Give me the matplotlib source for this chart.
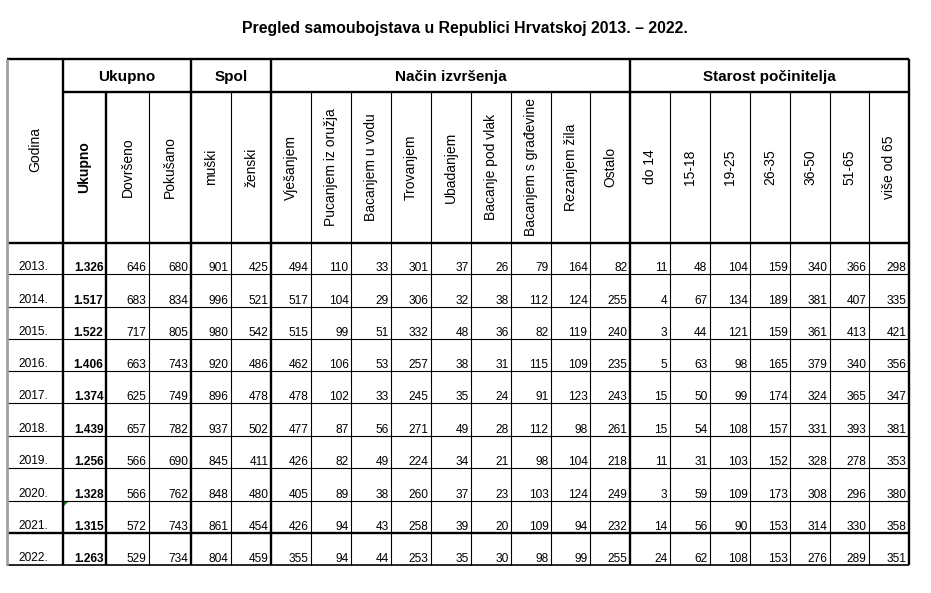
import matplotlib
matplotlib.use("Agg")
import matplotlib.pyplot as plt
from matplotlib.patches import Polygon

plt.rcParams['font.family'] = ['Liberation Sans', 'DejaVu Sans']

title = "Pregled samoubojstava u Republici Hrvatskoj 2013. – 2022."
years = ["2013.", "2014.", "2015.", "2016.", "2017.", "2018.", "2019.", "2020.", "2021.", "2022."]
groups = ["Ukupno", "Spol", "Način izvršenja", "Starost počinitelja"]
columns = ["Ukupno", "Dovršeno", "Pokušano", "muški", "ženski", "Vješanjem",
           "Pucanjem iz oružja", "Bacanjem u vodu", "Trovanjem", "Ubadanjem",
           "Bacanje pod vlak", "Bacanjem s građevine", "Rezanjem žila", "Ostalo",
           "do 14", "15-18", "19-25", "26-35", "36-50", "51-65", "više od 65"]

ukupno = [1326, 1517, 1522, 1406, 1374, 1439, 1256, 1328, 1315, 1263]
dovrseno = [646, 683, 717, 663, 625, 657, 566, 566, 572, 529]
pokusano = [680, 834, 805, 743, 749, 782, 690, 762, 743, 734]
muski = [901, 996, 980, 920, 896, 937, 845, 848, 861, 804]
zenski = [425, 521, 542, 486, 478, 502, 411, 480, 454, 459]
vjesanjem = [494, 517, 515, 462, 478, 477, 426, 405, 426, 355]
pucanjem = [110, 104, 99, 106, 102, 87, 82, 89, 94, 94]
u_vodu = [33, 29, 51, 53, 33, 56, 49, 38, 43, 44]
trovanjem = [301, 306, 332, 257, 245, 271, 224, 260, 258, 253]
ubadanjem = [37, 32, 48, 38, 35, 49, 34, 37, 39, 35]
pod_vlak = [26, 38, 36, 31, 24, 28, 21, 23, 20, 30]
s_gradevine = [79, 112, 82, 115, 91, 112, 98, 103, 109, 98]
rezanjem_zila = [164, 124, 119, 109, 123, 98, 104, 124, 94, 99]
ostalo = [82, 255, 240, 235, 243, 261, 218, 249, 232, 255]
do_14 = [11, 4, 3, 5, 15, 15, 11, 3, 14, 24]
od_15_18 = [48, 67, 44, 63, 50, 54, 31, 59, 56, 62]
od_19_25 = [104, 134, 121, 98, 99, 108, 103, 109, 90, 108]
od_26_35 = [159, 189, 159, 165, 174, 157, 152, 173, 153, 153]
od_36_50 = [340, 381, 361, 379, 324, 331, 328, 308, 314, 276]
od_51_65 = [366, 407, 413, 340, 365, 393, 278, 296, 330, 289]
vise_od_65 = [298, 335, 421, 356, 347, 381, 353, 380, 358, 351]

series = [ukupno, dovrseno, pokusano, muski, zenski, vjesanjem, pucanjem, u_vodu,
          trovanjem, ubadanjem, pod_vlak, s_gradevine, rezanjem_zila, ostalo,
          do_14, od_15_18, od_19_25, od_26_35, od_36_50, od_51_65, vise_od_65]

# layout (pixels)
W, H = 931, 593
xe = [7, 63, 106, 149, 191, 231, 271, 311, 351, 391, 431, 471, 511, 551, 590,
      630, 670, 710, 750, 790, 830, 869, 909]
top, grp_bot, hdr_bot = 59, 92, 243
ye = [243, 274, 307, 339, 371, 403, 436, 468, 501, 533, 565]
group_span = [(1, 4), (4, 6), (6, 15), (15, 22)]

fig = plt.figure(figsize=(W / 100, H / 100), dpi=100)
ax = fig.add_axes([0, 0, 1, 1])
ax.set_xlim(0, W)
ax.set_ylim(H, 0)
ax.axis('off')

thin = 0.8
thick = 1.7

def hline(y, x0, x1, lw, c='black'):
    ax.plot([x0, x1], [y, y], color=c, lw=lw, solid_capstyle='butt')

def vline(x, y0, y1, lw, c='black'):
    ax.plot([x, x], [y0, y1], color=c, lw=lw, solid_capstyle='butt')

ax.text(W / 2 - 1, 29, title, ha='center', va='center', fontsize=11.4, fontweight='bold')

# horizontal lines
hline(top, xe[0], xe[-1], thick)
hline(grp_bot, xe[1], xe[-1], thick)
for i, y in enumerate(ye):
    lw = thick if i in (0, 9) else (1.2 if i == len(ye) - 1 else thin)
    hline(y, xe[0], xe[-1], lw)

# vertical lines
thick_idx = {1, 2, 4, 6, 15, len(xe) - 1}
group_idx = {0, 1, 4, 6, 15, len(xe) - 1}
for i, x in enumerate(xe):
    y0 = top if i in group_idx else grp_bot
    if i == 0:
        vline(x, top, ye[-1], 2.0, c='#a0a0a0')
        continue
    lw = thick if i in thick_idx else thin
    vline(x, y0, ye[-1], lw)

# group headers
for g, (a, b) in zip(groups, group_span):
    ax.text((xe[a] + xe[b]) / 2, (top + grp_bot) / 2 + 1, g, ha='center', va='center',
            fontsize=11, fontweight='bold')

# column headers (rotated)
ax.text((xe[0] + xe[1]) / 2, 150, "Godina", rotation=90, ha='center', va='center', fontsize=10)
for j, name in enumerate(columns):
    cx = (xe[j + 1] + xe[j + 2]) / 2
    ax.text(cx, 167, name, rotation=90, ha='center', va='center', fontsize=10,
            fontweight='bold' if j == 0 else 'normal')

# data
for r, yr in enumerate(years):
    yb = ye[r + 1] - 3
    ax.text(33, yb - 1, yr, ha='center', va='baseline', fontsize=8.6)
    for j, s in enumerate(series):
        v = s[r]
        if j == 0:
            txt = f"{v:,}".replace(",", ".")
        else:
            txt = str(v)
        ax.text(xe[j + 2] - 2.5, yb, txt, ha='right', va='baseline', fontsize=8.6,
                fontweight='bold' if j == 0 else 'normal')

# small green cell marker (2021, Ukupno)
ax.add_patch(Polygon([[xe[1] + 1, ye[8] + 1], [xe[1] + 5, ye[8] + 1], [xe[1] + 1, ye[8] + 5]],
                     closed=True, color='#1e7b1e', lw=0))

fig.savefig("out.png", dpi=100)
